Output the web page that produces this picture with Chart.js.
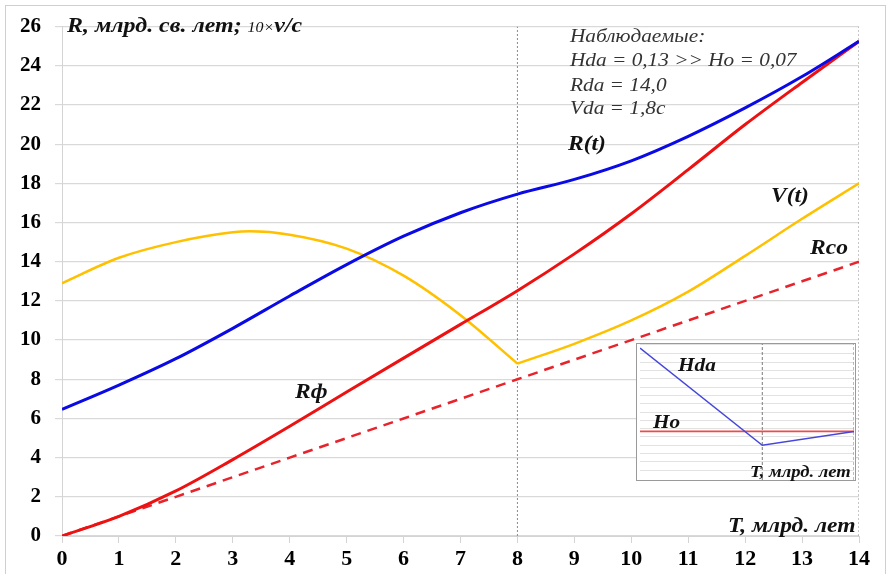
<!DOCTYPE html>
<html><head><meta charset="utf-8">
<script src="https://cdn.jsdelivr.net/npm/chart.js@4.4.1/dist/chart.umd.min.js"></script>
<style>
html,body{margin:0;padding:0;background:#fff;}
#wrap{position:relative;width:890px;height:574px;overflow:hidden;font-family:"Liberation Serif","Times New Roman",serif;}
#frame{position:absolute;left:5px;top:5px;width:879px;height:580px;border:1px solid #cfcfcf;pointer-events:none;}
.t{position:absolute;white-space:nowrap;line-height:1;transform-origin:left top;color:#111;}
.bi{font-weight:bold;font-style:italic;}
.it{font-style:italic;color:#333;}
#inset{position:absolute;left:636px;top:343px;width:218px;height:136px;border:1px solid #9a9a9a;background:#fff;}
</style></head>
<body><div id="wrap">
<canvas id="main" width="890" height="574"></canvas>
<div id="frame"></div>
<div class="t bi" style="left:67px;top:15px;font-size:21px;transform:scaleX(1.14)">R, млрд. св. лет; <span style="font-size:14px;font-weight:normal">10×</span>v/c</div>
<div class="t it" style="left:570px;top:26px;font-size:19px;transform:scaleX(1.12)">Наблюдаемые:</div>
<div class="t it" style="left:570px;top:50px;font-size:19px;transform:scaleX(1.12)">Hda = 0,13 &gt;&gt; Ho = 0,07</div>
<div class="t it" style="left:570px;top:75px;font-size:19px;transform:scaleX(1.12)">Rda = 14,0</div>
<div class="t it" style="left:570px;top:98px;font-size:19px;transform:scaleX(1.12)">Vda = 1,8c</div>
<div class="t bi" style="left:568px;top:133px;font-size:21px;transform:scaleX(1.12)">R(t)</div>
<div class="t bi" style="left:771px;top:185px;font-size:21px;transform:scaleX(1.12)">V(t)</div>
<div class="t bi" style="left:810px;top:237px;font-size:21px;transform:scaleX(1.12)">Rco</div>
<div class="t bi" style="left:295px;top:381px;font-size:21px;transform:scaleX(1.12)">Rф</div>
<div class="t bi" style="left:728px;top:515px;font-size:21px;transform:scaleX(1.12)">T, млрд. лет</div>
<div id="inset"><canvas id="ins" width="218" height="136"></canvas>
<div class="t bi" style="left:41px;top:11px;font-size:19px;transform:scaleX(1.12)">Hda</div>
<div class="t bi" style="left:16px;top:68px;font-size:19px;transform:scaleX(1.12)">Ho</div>
<div class="t bi" style="left:113px;top:120px;font-size:16px;transform:scaleX(1.16)">T, млрд. лет</div>
</div>
</div>
<script>
// ---- data ----
const T    = [0,1,2,3,4,5,6,7,8,9,10,11,12,13,14];
const R_t  = [6.46,7.7,9.05,10.6,12.25,13.85,15.3,16.5,17.45,18.2,19.15,20.4,21.85,23.45,25.25];
const R_f  = [0,1.0,2.3,3.9,5.6,7.35,9.08,10.8,12.52,14.4,16.45,18.7,21.0,23.15,25.25];
const R_co = [0,1,2,3,4,5,6,7,8,9,10,11,12,13,14];
// V(t): two branches, broken at T = 8
const TV1 = [0,1,2,3,3.3,4,5,6,7,8];
const V_1 = [12.9,14.2,15.0,15.5,15.55,15.38,14.67,13.29,11.27,8.8];
const TV2 = [8,9,10,11,12,13,14];
const V_2 = [8.8,9.81,11.0,12.47,14.3,16.19,18.0];
const MARK_T = [8,14];        // dotted vertical markers
// inset (Hubble parameter)
const HT   = [0,8,14];
const H_da = [0.130,0.060,0.070];
const H_o  = [0.070,0.070,0.070];

const pts = (xs, ys) => xs.map((x,i)=>({x:x, y:ys[i]}));
const vline = (x, y0, y1) => [{x:x,y:y0},{x:x,y:y1}];

const markerSets = MARK_T.map(m => ({data:vline(m,0,26), borderColor:'#8c8c8c', borderWidth:1, borderDash:[2,2], pointRadius:0, tension:0, order:10}));
const serif = '"Liberation Serif","Times New Roman",serif';
const smooth = {pointRadius:0, cubicInterpolationMode:'monotone'};

new Chart(document.getElementById('main'), {
  type:'line',
  data:{datasets:[
    ...markerSets,
    {data:pts(T,R_co), borderColor:'#e8232b', borderWidth:2.5, borderDash:[10,7], pointRadius:0, tension:0, order:4},
    {data:pts(TV1,V_1), borderColor:'#ffc000', borderWidth:2.5, ...smooth, order:3},
    {data:pts(TV2,V_2), borderColor:'#ffc000', borderWidth:2.5, ...smooth, order:3},
    {data:pts(T,R_f), borderColor:'#ee1111', borderWidth:3, ...smooth, order:2},
    {data:pts(T,R_t), borderColor:'#0a0ae6', borderWidth:3, ...smooth, order:1}
  ]},
  options:{
    responsive:false, animation:false, devicePixelRatio:1,
    layout:{padding:{top:22,right:31,left:0,bottom:0}},
    plugins:{legend:{display:false}, tooltip:{enabled:false}},
    scales:{
      x:{type:'linear', min:0, max:14,
         ticks:{stepSize:1, color:'#000', font:{family:serif, weight:'bold', size:22}, padding:3},
         grid:{drawOnChartArea:false, tickLength:7, color:'#d4d4d4'},
         border:{color:'#d4d4d4'},
         afterFit:(s)=>{s.height=38;}},
      y:{min:0, max:26,
         ticks:{stepSize:2, color:'#000', font:{family:serif, weight:'bold', size:21}, padding:14},
         grid:{color:'#d9d9d9', tickLength:7, lineWidth:1.2},
         border:{color:'#d4d4d4'},
         afterFit:(s)=>{s.width=62;}}
    }
  }
});

new Chart(document.getElementById('ins'), {
  type:'line',
  data:{datasets:[
    {data:vline(8,0.035,0.133), borderColor:'#7a7a7a', borderWidth:1, borderDash:[3,2], pointRadius:0, order:5},
    {data:vline(14,0.035,0.133), borderColor:'#7a7a7a', borderWidth:1, borderDash:[3,2], pointRadius:0, order:5},
    {data:pts(HT,H_o), borderColor:'#f04a4a', borderWidth:1.8, pointRadius:0, tension:0, order:2},
    {data:pts(HT,H_da), borderColor:'#4646dc', borderWidth:1.5, pointRadius:0, tension:0, order:1}
  ]},
  options:{
    responsive:false, animation:false, devicePixelRatio:1,
    layout:{padding:{top:0,right:1,left:3,bottom:0}},
    plugins:{legend:{display:false}, tooltip:{enabled:false}},
    scales:{
      x:{type:'linear', min:0, max:14, display:false},
      y:{min:0.035, max:0.133, ticks:{display:false, stepSize:0.006}, grid:{color:'#e2e2e2', drawTicks:false}, border:{display:false}}
    }
  }
});
</script>
</body></html>
